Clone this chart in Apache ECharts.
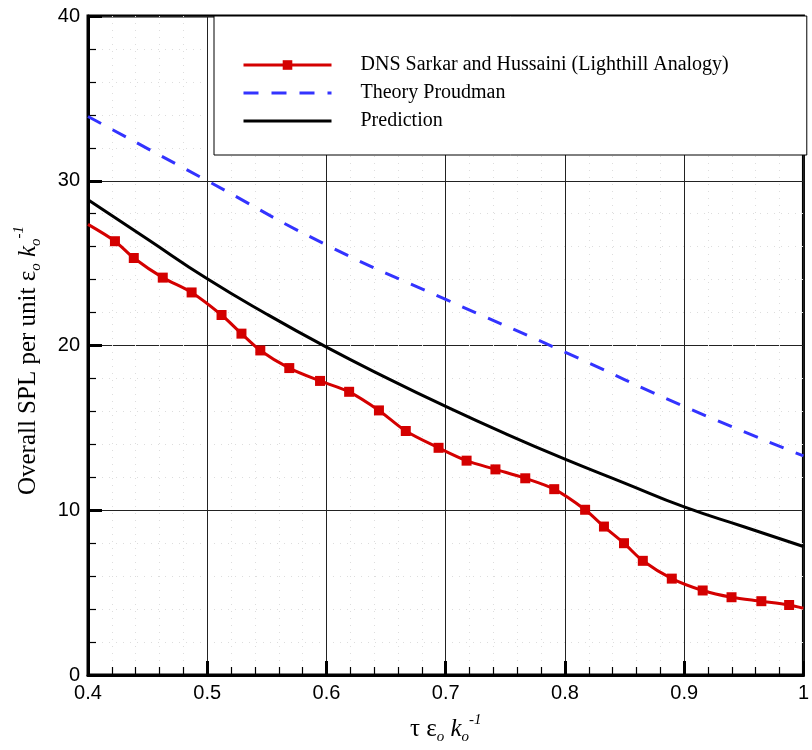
<!DOCTYPE html>
<html>
<head>
    <meta charset='utf-8'>
    <script src="https://cdn.jsdelivr.net/npm/echarts@6/dist/echarts.min.js"></script>
</head>
<body>
<style>
    html, body, #main {
        width: 100%;
        height: 100%;
        margin: 0;
        padding: 0;
        background: #fff;
    }
</style>
<div id="main"></div>
<script>
    // DNS Sarkar and Hussaini (first/last points are the line ends, no marker)
    var dnsX = [0.4, 0.4226, 0.4384, 0.4627, 0.4869, 0.512, 0.5287, 0.5445, 0.5688, 0.5946,
        0.619, 0.644, 0.6665, 0.694, 0.7175, 0.7417, 0.7667, 0.791, 0.8169, 0.8327,
        0.8495, 0.8653, 0.8896, 0.9155, 0.9397, 0.9647, 0.988, 1.0];
    var dnsY = [27.35, 26.33, 25.31, 24.12, 23.22, 21.85, 20.72, 19.70, 18.63, 17.85,
        17.19, 16.06, 14.81, 13.79, 13.01, 12.48, 11.94, 11.28, 10.03, 9.01,
        8.0, 6.93, 5.85, 5.13, 4.72, 4.48, 4.25, 4.05];

    var theoryX = [0.4, 0.5, 0.6, 0.7, 0.8, 0.9, 1.0];
    var theoryY = [33.9, 30.0, 26.1, 22.8, 19.6, 16.3, 13.3];

    var predX = [0.4, 0.45, 0.5, 0.55, 0.6, 0.65, 0.7, 0.75, 0.8, 0.85, 0.9, 0.95, 1.0];
    var predY = [28.85, 26.45, 24.05, 21.9, 19.9, 18.05, 16.3, 14.65, 13.1, 11.65, 10.2, 9.0, 7.8];

    var names = ['DNS Sarkar and Hussaini (Lighthill Analogy)', 'Theory Proudman', 'Prediction'];

    function pairs(xs, ys) {
        return xs.map(function (x, i) { return [x, ys[i]]; });
    }

    var dnsData = pairs(dnsX, dnsY).map(function (p, i) {
        if (i === 0 || i === dnsX.length - 1) {
            return {value: p, symbol: 'none'};
        }
        return p;
    });

    var serif = 'Liberation Serif';
    var sans = 'Liberation Sans';
    var nameRich = {
        n: {fontFamily: serif, fontSize: 25, lineHeight: 32, color: '#000'},
        i: {fontFamily: serif, fontSize: 25, lineHeight: 32, fontStyle: 'italic', color: '#000'},
        s: {fontFamily: serif, fontSize: 15, lineHeight: 14, fontStyle: 'italic', verticalAlign: 'bottom', color: '#000'},
        p: {fontFamily: serif, fontSize: 15, lineHeight: 14, fontStyle: 'italic', verticalAlign: 'top', color: '#000'}
    };

    var chart = echarts.init(document.getElementById('main'));

    chart.setOption({
        animation: false,
        grid: {
            left: 88, right: 6, top: 16, bottom: 64,
            show: true,
            borderColor: '#000',
            borderWidth: 3
        },
        legend: {
            orient: 'vertical',
            left: 214,
            top: 16,
            padding: [39, 78, 24, 28],
            itemGap: 8,
            itemWidth: 88,
            itemHeight: 12,
            backgroundColor: '#fff',
            borderColor: '#000',
            borderWidth: 1,
            lineStyle: {width: 3},
            textStyle: {fontFamily: serif, fontSize: 20, color: '#000', padding: [0, 0, 0, 24]},
            data: [
                {name: names[0]},
                {name: names[1], itemStyle: {opacity: 0}},
                {name: names[2], itemStyle: {opacity: 0}}
            ]
        },
        xAxis: {
            type: 'value',
            min: 0.4,
            max: 1.0,
            interval: 0.1,
            name: '{n|τ ε}{s|o}{i| k}{s|o}{p|-1}',
            nameLocation: 'middle',
            nameGap: 38,
            nameTextStyle: {rich: nameRich},
            axisLine: {lineStyle: {color: '#000', width: 3}},
            axisTick: {inside: true, length: 14, lineStyle: {color: '#000', width: 3}},
            minorTick: {show: true, splitNumber: 5, length: 8, lineStyle: {color: '#000', width: 1.2}},
            axisLabel: {fontFamily: sans, fontSize: 20, color: '#000', margin: 8},
            splitLine: {show: true, lineStyle: {color: '#222', width: 1}},
            minorSplitLine: {show: true, lineStyle: {color: '#ddd', width: 1, type: [1, 6]}}
        },
        yAxis: {
            type: 'value',
            min: 0,
            max: 40,
            interval: 10,
            name: '{n|Overall SPL per unit ε}{s|o}{i| k}{s|o}{p|-1}',
            nameLocation: 'middle',
            nameGap: 44,
            nameTextStyle: {rich: nameRich, padding: [0, 30, 0, 0]},
            axisLine: {lineStyle: {color: '#000', width: 3}},
            axisTick: {inside: true, length: 14, lineStyle: {color: '#000', width: 3}},
            minorTick: {show: true, splitNumber: 5, length: 8, lineStyle: {color: '#000', width: 1.2}},
            axisLabel: {fontFamily: sans, fontSize: 20, color: '#000', margin: 8},
            splitLine: {show: true, lineStyle: {color: '#222', width: 1}},
            minorSplitLine: {show: true, lineStyle: {color: '#ddd', width: 1, type: [1, 6]}}
        },
        series: [{
            name: names[0],
            type: 'line',
            data: dnsData,
            smooth: 0.3,
            symbol: 'rect',
            symbolSize: 10,
            itemStyle: {color: '#d40000'},
            lineStyle: {color: '#d40000', width: 3},
            z: 4
        }, {
            name: names[1],
            type: 'line',
            data: pairs(theoryX, theoryY),
            smooth: true,
            symbol: 'none',
            itemStyle: {color: '#3333ff'},
            lineStyle: {color: '#3333ff', width: 3, type: [15, 13]},
            z: 3
        }, {
            name: names[2],
            type: 'line',
            data: pairs(predX, predY),
            smooth: true,
            symbol: 'none',
            itemStyle: {color: '#000'},
            lineStyle: {color: '#000', width: 3},
            z: 3
        }]
    });
</script>
</body>
</html>
